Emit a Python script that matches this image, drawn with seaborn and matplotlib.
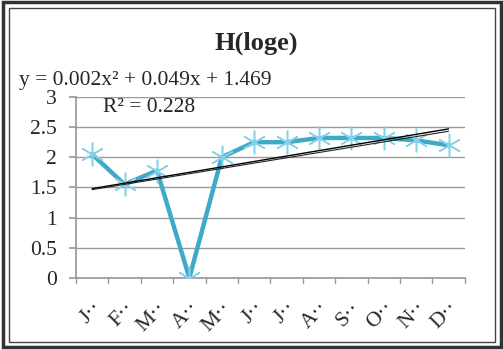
import numpy as np
import pandas as pd
import matplotlib
matplotlib.use("Agg")
import matplotlib.pyplot as plt
import seaborn as sns
from matplotlib.patches import Rectangle

months = ["J··", "F··", "M··", "A··", "M··", "J··", "J··", "A··", "S··", "O··", "N··", "D··"]
values = [2.05, 1.55, 1.78, 0.0, 2.0, 2.25, 2.25, 2.32, 2.32, 2.32, 2.28, 2.2]
trend_a = [0.090, 1.390]
trend_b = [0.088, 1.375]
title = "H(loge)"
eq_text = "y = 0.002x² + 0.049x + 1.469"
r2_text = "R² = 0.228"
yticks = [0, 0.5, 1, 1.5, 2, 2.5, 3]

sns.set_theme(style="white")
plt.rcParams['font.family'] = ['Liberation Serif', 'DejaVu Serif']

fig = plt.figure(figsize=(5.03, 3.5), dpi=100)
ax = fig.add_axes([0.151, 0.206, 0.773, 0.517])

df = pd.DataFrame({"idx": np.arange(len(months)), "val": values})
sns.lineplot(data=df, x="idx", y="val", ax=ax, color="#3FAAC8", lw=3.2,
             marker=(6, 2, 0), markersize=17, markeredgecolor="#86D2E8",
             markeredgewidth=1.1, zorder=3)

xs = np.arange(1, len(months) + 1)
ax.plot(xs - 1, np.polyval(trend_a, xs), color="black", lw=1.0, zorder=4)
ax.plot(xs - 1, np.polyval(trend_b, xs), color="#222222", lw=0.8, zorder=4)

ax.set_xlim(-0.5, len(months) - 0.5)
ax.set_ylim(0, 3)
ax.set_yticks(yticks)
ax.set_yticklabels([f"{t:g}" for t in yticks], fontsize=15.5)
ax.yaxis.grid(True, color="#9a9a9a", lw=1)
ax.set_axisbelow(True)
ax.set_xticks(np.arange(len(months)))
ax.set_xticklabels(months, rotation=45, ha="right", rotation_mode="anchor", fontsize=15.5)
ax.set_xlabel("")
ax.set_ylabel("")
for s in ["top", "right"]:
    ax.spines[s].set_visible(False)
ax.spines["left"].set_color("#9a9a9a")
ax.spines["bottom"].set_color("#9a9a9a")
ax.tick_params(axis="y", left=True, length=5, color="#9a9a9a", pad=9)
ax.tick_params(axis="x", bottom=False, pad=9)
for b in np.arange(len(months) + 1) - 0.5:
    ax.plot([b, b], [0, -0.09], color="#9a9a9a", lw=1, clip_on=False)

fig.text(0.51, 0.875, title, ha="center", va="center", fontsize=19, fontweight="bold")
fig.text(0.038, 0.77, eq_text, ha="left", va="center", fontsize=15.5)
fig.text(0.205, 0.693, r2_text, ha="left", va="center", fontsize=15.5)

fig.patches.append(Rectangle((0.006, 0.008), 0.99, 0.985, transform=fig.transFigure,
                             fill=False, ec="#333333", lw=2.5))
fig.patches.append(Rectangle((0.018, 0.024), 0.966, 0.953, transform=fig.transFigure,
                             fill=False, ec="#444444", lw=1.0))

fig.savefig("out.png", dpi=100)
